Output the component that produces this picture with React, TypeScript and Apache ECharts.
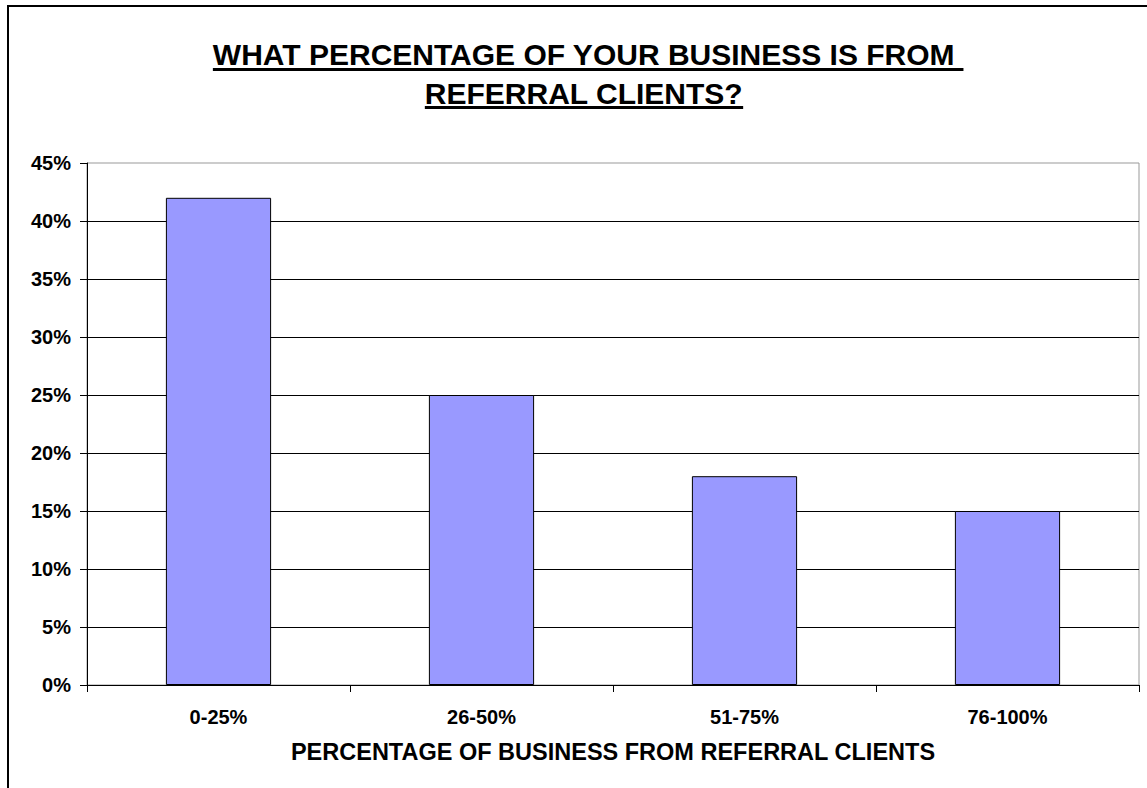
import React, { useEffect, useRef } from "react";
import * as echarts from "echarts";

const categories = ["0-25%", "26-50%", "51-75%", "76-100%"];
const values = [42, 25, 18, 15];
const titleLines = ["WHAT PERCENTAGE OF YOUR BUSINESS IS FROM ", "REFERRAL CLIENTS?"];
const xAxisTitle = "PERCENTAGE OF BUSINESS FROM REFERRAL CLIENTS";
const yMax = 45;
const yStep = 5;

const FONT = "'Liberation Sans', Arial, Helvetica, sans-serif";

function measure(text: string, font: string): number {
  const c = document.createElement("canvas");
  const ctx = c.getContext("2d");
  if (!ctx) return text.length * 15;
  ctx.font = font;
  return ctx.measureText(text).width;
}

export default function App() {
  const ref = useRef<HTMLDivElement>(null);

  useEffect(() => {
    document.body.style.margin = "0";
    if (!ref.current) return;
    const chart = echarts.init(ref.current, undefined, { renderer: "svg" });

    const titleSize = 30;
    const titleFont = `bold ${titleSize}px ${FONT}`;
    const cx = 584;
    const lineY = [54.5, 93.5];
    const ulY = [68, 106];

    const graphics: any[] = [
      {
        type: "rect",
        shape: { x: 8, y: 6, width: 1300, height: 1000 },
        style: { fill: "none", stroke: "#000", lineWidth: 2 },
        silent: true,
      },
    ];
    titleLines.forEach((t, i) => {
      const trimmed = t.replace(/\s+$/, "");
      const wText = measure(trimmed, titleFont);
      const wFull = measure(t, titleFont);
      const x0 = cx - wText / 2;
      graphics.push({
        type: "text",
        x: x0,
        y: lineY[i],
        style: {
          text: trimmed,
          font: titleFont,
          fill: "#000",
          align: "left",
          verticalAlign: "middle",
        },
      });
      graphics.push({
        type: "rect",
        shape: { x: x0, y: ulY[i], width: wFull, height: 3 },
        style: { fill: "#000" },
        silent: true,
      });
    });
    graphics.push({
      type: "text",
      x: 613,
      y: 751.5,
      style: {
        text: xAxisTitle,
        font: `bold 23.5px ${FONT}`,
        fill: "#000",
        align: "center",
        verticalAlign: "middle",
      },
    });

    chart.setOption({
      animation: false,
      backgroundColor: "#fff",
      grid: {
        left: 87,
        top: 163,
        width: 1052,
        height: 522,
        show: true,
        borderColor: "#999",
        borderWidth: 1,
        containLabel: false,
        outerBoundsMode: "none",
      },
      xAxis: {
        type: "category",
        data: categories,
        boundaryGap: true,
        axisLine: { show: true, lineStyle: { color: "#000", width: 1 } },
        axisTick: { show: true, length: 7, lineStyle: { color: "#000" } },
        axisLabel: {
          margin: 22,
          color: "#000",
          fontFamily: FONT,
          fontWeight: "bold",
          fontSize: 20,
          lineHeight: 20,
        },
        splitLine: { show: false },
      },
      yAxis: {
        type: "value",
        min: 0,
        max: yMax,
        interval: yStep,
        axisLine: { show: true, lineStyle: { color: "#000", width: 1 } },
        axisTick: { show: true, length: 7, lineStyle: { color: "#000" } },
        axisLabel: {
          margin: 16,
          color: "#000",
          fontFamily: FONT,
          fontWeight: "bold",
          fontSize: 20,
          formatter: "{value}%",
        },
        splitLine: {
          show: true,
          showMinLine: false,
          showMaxLine: false,
          lineStyle: { color: "#000", width: 1 },
        },
      },
      series: [
        {
          type: "bar",
          data: values,
          barWidth: "40%",
          itemStyle: { color: "#9999FF", borderColor: "#000", borderWidth: 1 },
        },
      ],
      graphic: graphics,
    });

    return () => chart.dispose();
  }, []);

  return <div ref={ref} style={{ width: 1147, height: 788 }} />;
}
